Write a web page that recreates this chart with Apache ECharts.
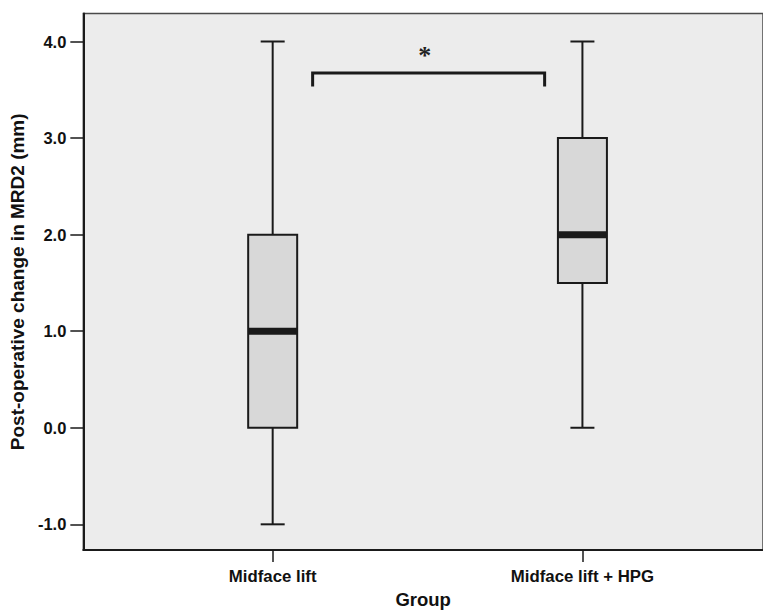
<!DOCTYPE html>
<html>
<head>
<meta charset="utf-8">
<script src="https://cdn.jsdelivr.net/npm/echarts@6/dist/echarts.min.js"></script>
<style>html,body{margin:0;padding:0;background:#fff}#c{width:763px;height:614px}</style>
</head>
<body>
<div id="c"></div>
<script>
// ---- data ----
var categories = ['Midface lift', 'Midface lift + HPG'];
var groupPos = [1, 2];
var mins = [-1.0, 0.0];
var q1s = [0.0, 1.5];
var medians = [1.0, 2.0];
var q3s = [2.0, 3.0];
var maxs = [4.0, 4.0];
var yTicks = [-1.0, 0.0, 1.0, 2.0, 3.0, 4.0];
var bracketX = [1.129, 1.878];
var bracketY = [3.673, 3.534];
var starPos = [1.491, 3.85];
var starText = '*';

var boxData = categories.map(function (c, i) {
  return [groupPos[i], mins[i], q1s[i], medians[i], q3s[i], maxs[i]];
});

var chart = echarts.init(document.getElementById('c'), null, {renderer: 'svg'});
var FONT = 'Liberation Sans, Arial, sans-serif';

chart.setOption({
  animation: false,
  backgroundColor: '#ffffff',
  grid: {
    left: 82, right: 0, top: 13.5, bottom: 63,
    show: true, backgroundColor: '#ececec', borderColor: '#4a4a4a', borderWidth: 1.5
  },
  xAxis: {
    type: 'value', min: 0.3887, max: 2.583,
    splitLine: {show: false},
    axisLine: {show: true, onZero: false, lineStyle: {color: '#1a1a1a', width: 2}},
    axisTick: {show: true, customValues: groupPos, length: 12, lineStyle: {color: '#1a1a1a', width: 1.5}},
    axisLabel: {
      customValues: groupPos, margin: 18,
      formatter: function (v) { return categories[Math.round(v) - 1]; },
      color: '#111', fontFamily: FONT, fontWeight: 'bold', fontSize: 16.8
    },
    name: 'Group', nameLocation: 'middle', nameGap: 36,
    nameTextStyle: {color: '#111', fontFamily: FONT, fontWeight: 'bold', fontSize: 18.5}
  },
  yAxis: {
    type: 'value', min: -1.267, max: 4.29,
    splitLine: {show: false},
    axisLine: {show: true, onZero: false, lineStyle: {color: '#1a1a1a', width: 2}},
    axisTick: {show: true, customValues: yTicks, length: 13, lineStyle: {color: '#1a1a1a', width: 1.5}},
    axisLabel: {
      customValues: yTicks, margin: 17,
      formatter: function (v) { return v.toFixed(1); },
      color: '#111', fontFamily: FONT, fontWeight: 'bold', fontSize: 16.5
    },
    name: 'Post-operative change in MRD2 (mm)', nameLocation: 'middle', nameGap: 55, nameRotate: 90,
    nameTextStyle: {color: '#111', fontFamily: FONT, fontWeight: 'bold', fontSize: 19}
  },
  series: [
    {
      type: 'custom',
      data: boxData,
      encode: {x: 0, y: [1, 2, 3, 4, 5]},
      renderItem: function (params, api) {
        var x = api.value(0);
        var pMin = api.coord([x, api.value(1)]);
        var pQ1 = api.coord([x, api.value(2)]);
        var pMed = api.coord([x, api.value(3)]);
        var pQ3 = api.coord([x, api.value(4)]);
        var pMax = api.coord([x, api.value(5)]);
        var cx = pMin[0];
        var hw = 24.5, cw = 12;
        var ls = {stroke: '#1a1a1a', lineWidth: 2};
        return {
          type: 'group',
          children: [
            {type: 'line', shape: {x1: cx, y1: pMax[1], x2: cx, y2: pQ3[1]}, style: ls},
            {type: 'line', shape: {x1: cx, y1: pQ1[1], x2: cx, y2: pMin[1]}, style: ls},
            {type: 'line', shape: {x1: cx - cw, y1: pMax[1], x2: cx + cw, y2: pMax[1]}, style: ls},
            {type: 'line', shape: {x1: cx - cw, y1: pMin[1], x2: cx + cw, y2: pMin[1]}, style: ls},
            {type: 'rect', shape: {x: cx - hw, y: pQ3[1], width: 2 * hw, height: pQ1[1] - pQ3[1]},
              style: {fill: '#d8d8d8', stroke: '#1a1a1a', lineWidth: 2}},
            {type: 'line', shape: {x1: cx - hw, y1: pMed[1], x2: cx + hw, y2: pMed[1]},
              style: {stroke: '#1a1a1a', lineWidth: 7}}
          ]
        };
      }
    },
    {
      type: 'custom',
      data: [[bracketX[0], bracketX[1], bracketY[0], bracketY[1], starPos[0], starPos[1]]],
      encode: {x: [0, 1], y: [2, 3]},
      renderItem: function (params, api) {
        var a = api.coord([api.value(0), api.value(2)]);
        var b = api.coord([api.value(1), api.value(2)]);
        var bot = api.coord([api.value(0), api.value(3)]);
        var s = api.coord([api.value(4), api.value(5)]);
        return {
          type: 'group',
          children: [
            {type: 'polyline', shape: {points: [[a[0], bot[1]], [a[0], a[1]], [b[0], b[1]], [b[0], bot[1]]]},
              style: {stroke: '#1a1a1a', lineWidth: 3, fill: null}},
            {type: 'text', x: s[0], y: s[1],
              style: {text: starText, fill: '#222', font: 'bold 26px "Liberation Serif", serif', align: 'center', verticalAlign: 'middle'}}
          ]
        };
      }
    }
  ]
});
</script>
</body>
</html>
